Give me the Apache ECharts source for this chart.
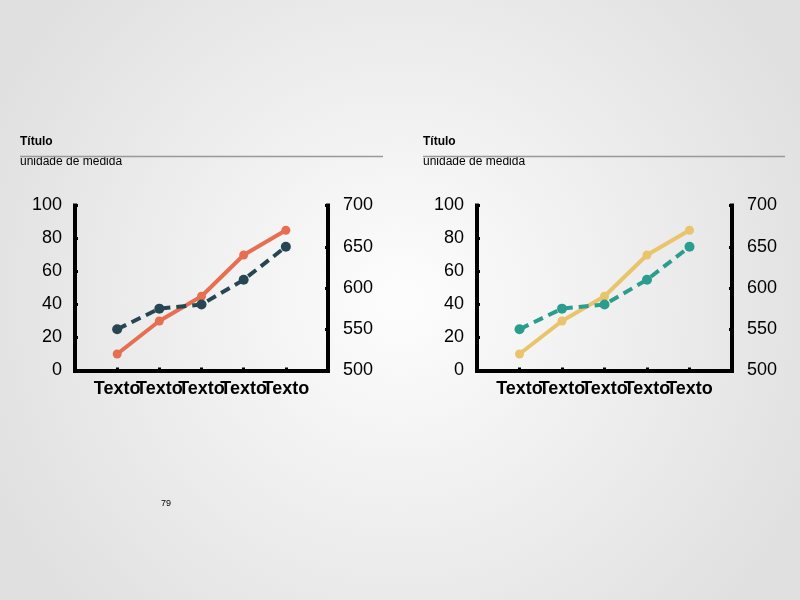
<!DOCTYPE html>
<html>
<head>
<meta charset="utf-8">
<title>Gráficos</title>
<script src="https://cdn.jsdelivr.net/npm/echarts@6/dist/echarts.min.js"></script>
<style>
  html, body { margin: 0; padding: 0; }
  #chart { width: 800px; height: 600px; }
</style>
</head>
<body>
<div id="chart"></div>
<script>
const categories = ['Texto', 'Texto', 'Texto', 'Texto', 'Texto'];
const leftTicks = [0, 20, 40, 60, 80, 100];
const rightTicks = [500, 550, 600, 650, 700];
const solidValues = [10, 30, 45, 70, 85];
const dashedValues = [550, 575, 580, 610, 650];

const FONT = '"Liberation Sans", Arial, sans-serif';
// empty slot on both ends so the points sit half a step in from the axes
const axisCategories = [''].concat(categories, ['']);

function toPoints(values) {
  return values.map((v, i) => [i + 1, v]);
}

const panels = [
  { left: 75, width: 253, solid: '#e76f51', dashed: '#264653' },
  { left: 477, width: 255, solid: '#e9c46a', dashed: '#2a9d8f' }
];

const axisLine = { show: true, lineStyle: { color: '#000', width: 4, cap: 'square' } };
const axisTick = { show: true, inside: true, length: 3, lineStyle: { color: '#000', width: 3 } };

const grid = [], xAxis = [], yAxis = [], series = [];

panels.forEach((p, k) => {
  grid.push({ left: p.left, width: p.width, top: 205.5, height: 165 });
  xAxis.push({
    gridIndex: k, type: 'category', data: axisCategories, boundaryGap: false,
    axisLine: axisLine,
    axisTick: Object.assign({}, axisTick, { interval: (i, v) => v !== '' }),
    splitLine: { show: false },
    axisLabel: {
      interval: 0, hideOverlap: false, margin: 10,
      fontFamily: FONT, fontSize: 18, fontWeight: 'bold', color: '#000'
    }
  });
  yAxis.push({
    gridIndex: k, type: 'value', position: 'left',
    min: leftTicks[0], max: leftTicks[leftTicks.length - 1], interval: 20,
    axisLine: axisLine, axisTick: axisTick, splitLine: { show: false },
    axisLabel: { margin: 13, fontFamily: FONT, fontSize: 18, color: '#000' }
  });
  yAxis.push({
    gridIndex: k, type: 'value', position: 'right',
    min: rightTicks[0], max: rightTicks[rightTicks.length - 1], interval: 50,
    axisLine: axisLine, axisTick: axisTick, splitLine: { show: false },
    axisLabel: { margin: 15, fontFamily: FONT, fontSize: 18, color: '#000' }
  });
  series.push({
    type: 'line', xAxisIndex: k, yAxisIndex: k * 2,
    data: toPoints(solidValues),
    symbol: 'circle', symbolSize: 9,
    lineStyle: { color: p.solid, width: 4 },
    itemStyle: { color: p.solid }
  });
  series.push({
    type: 'line', xAxisIndex: k, yAxisIndex: k * 2 + 1,
    data: toPoints(dashedValues),
    symbol: 'circle', symbolSize: 10,
    lineStyle: { color: p.dashed, width: 4, type: [10, 6] },
    itemStyle: { color: p.dashed }
  });
});

function header(x, lineEnd) {
  return [
    { type: 'text', left: x, top: 136, style: { text: 'Título', fontFamily: FONT, fontSize: 12, fontWeight: 'bold', fill: '#000' } },
    { type: 'text', left: x, top: 156, style: { text: 'unidade de medida', fontFamily: FONT, fontSize: 12, fill: '#000' } },
    { type: 'line', shape: { x1: x, y1: 156.5, x2: lineEnd, y2: 156.5 }, style: { stroke: '#999', lineWidth: 1.5 } }
  ];
}

const chart = echarts.init(document.getElementById('chart'));
chart.setOption({
  animation: false,
  backgroundColor: {
    type: 'radial', x: 0.5, y: 0.5, r: 0.75,
    colorStops: [{ offset: 0, color: '#fdfdfd' }, { offset: 1, color: '#e0e0e0' }]
  },
  grid: grid,
  xAxis: xAxis,
  yAxis: yAxis,
  series: series,
  graphic: header(20, 383).concat(header(423, 785)).concat([
    { type: 'text', left: 161, top: 499, style: { text: '79', fontFamily: FONT, fontSize: 9, fill: '#000' } }
  ])
});
</script>
</body>
</html>
